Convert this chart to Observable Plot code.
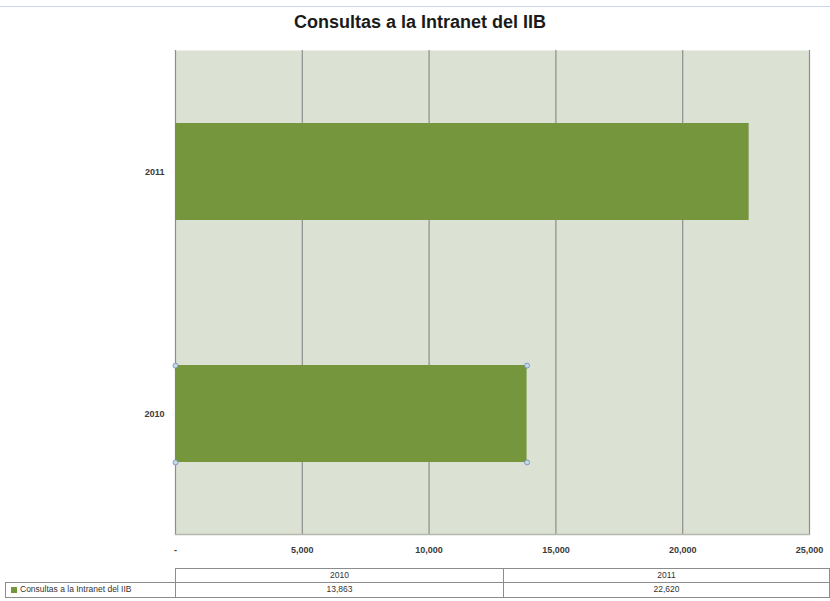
<!DOCTYPE html>
<html>
<head>
<meta charset="utf-8">
<script src="https://cdn.jsdelivr.net/npm/d3@7"></script>
<script src="https://cdn.jsdelivr.net/npm/@observablehq/plot@0.6"></script>
<style>
  html, body { margin: 0; padding: 0; background: #fff; }
  #wrap { position: relative; width: 830px; height: 601px; overflow: hidden; font-family: "Liberation Sans Narrow", "Liberation Sans", sans-serif; }
  #topline { position: absolute; left: 0; top: 6px; width: 830px; height: 0; border-top: 1px solid #c9d5ee; }
  #title { position: absolute; left: 0; top: 12px; width: 840px; text-align: center; font-weight: bold; font-size: 18px; color: #1a1a1a; }
  #chart { position: absolute; left: 0; top: 40px; }
  .cell { position: absolute; box-sizing: border-box; border: 1px solid #8c8c8c; font-size: 8.5px; color: #333; text-align: center; line-height: 13px; background: #fff; }
  .sw { display: inline-block; width: 6px; height: 6px; background: #76963d; margin-right: 3px; vertical-align: -0.5px; }
</style>
</head>
<body>
<div id="wrap">
  <div id="topline"></div>
  <div id="title">Consultas a la Intranet del IIB</div>
  <div id="chart"></div>
  <div id="table"></div>
</div>
<script>
const seriesName = "Consultas a la Intranet del IIB";
const years = ["2010", "2011"];
const values = [13863, 22620];
const xTicks = [0, 5000, 10000, 15000, 20000, 25000];

const data = years.map((y, i) => ({year: y, value: values[i]}));

const W = 830, H = 528, mt = 10, mb = 34, ml = 175, mr = 21;
const padIn = 0.6, padOut = 0.3;
const step = (H - mt - mb) / (years.length - padIn + 2 * padOut);
const half = step * (1 - padIn) / 2;

const fmt = d => d === 0 ? "-" : d3.format(",")(d);

const plot = Plot.plot({
  width: W, height: H,
  marginTop: mt, marginBottom: mb, marginLeft: ml, marginRight: mr,
  style: {fontFamily: "'Liberation Sans Narrow', 'Liberation Sans', sans-serif", fontSize: "9px", color: "#333", background: "transparent"},
  x: {domain: [0, 25000], ticks: xTicks},
  y: {domain: ["2010", "2011"], reverse: true, paddingInner: padIn, paddingOuter: padOut},
  marks: [
    Plot.frame({fill: "#dbe1d3", stroke: null}),
    Plot.ruleX(xTicks, {stroke: "#8e8e8e", strokeWidth: 1.2}),
    Plot.frame({anchor: "bottom", stroke: "#b5b9b0", strokeWidth: 1.5}),
    Plot.barX(data, {x: "value", y: "year", fill: "#76963d"}),
    Plot.dot([{year: "2010", x: 0}, {year: "2010", x: values[0]}], {x: "x", y: "year", dy: -half, r: 2.5, fill: "#c6d7ea", stroke: "#6a8fb8", strokeWidth: 0.8}),
    Plot.dot([{year: "2010", x: 0}, {year: "2010", x: values[0]}], {x: "x", y: "year", dy: half, r: 2.5, fill: "#c6d7ea", stroke: "#6a8fb8", strokeWidth: 0.8}),
    Plot.axisX({ticks: xTicks, tickFormat: fmt, tickSize: 0, tickPadding: 12, fontWeight: "bold", fill: "#3a3a3a"}),
    Plot.axisY({tickSize: 0, tickPadding: 11, fontWeight: "bold", fill: "#3a3a3a", label: null})
  ]
});
document.getElementById("chart").appendChild(plot);

// data table below the chart
const tbl = document.getElementById("table");
const xs = plot.scale("x");
const colEdges = [175, 503, 829];
function cell(left, top, w, h, html) {
  const d = document.createElement("div");
  d.className = "cell";
  Object.assign(d.style, {left: left + "px", top: top + "px", width: w + "px", height: h + "px"});
  d.innerHTML = html;
  tbl.appendChild(d);
}
years.forEach((y, i) => {
  cell(colEdges[i], 568, colEdges[i + 1] - colEdges[i] + 1, 15, y);
  cell(colEdges[i], 582, colEdges[i + 1] - colEdges[i] + 1, 16, d3.format(",")(values[i]));
});
const lc = document.createElement("div");
lc.className = "cell";
Object.assign(lc.style, {left: "5px", top: "582px", width: "171px", height: "16px", textAlign: "left", paddingLeft: "5px"});
lc.innerHTML = '<span class="sw"></span>' + seriesName;
tbl.appendChild(lc);
</script>
</body>
</html>
